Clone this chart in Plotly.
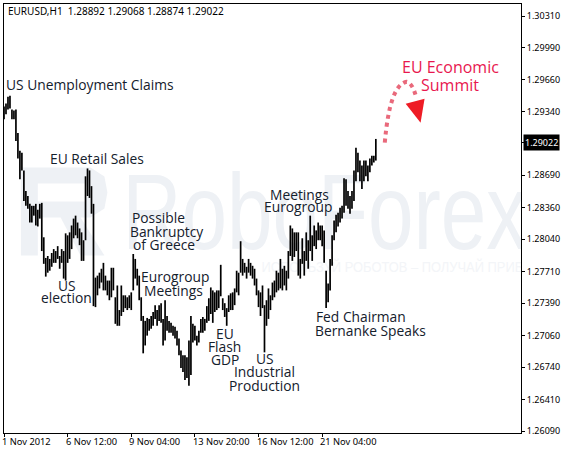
import numpy as np
import plotly.graph_objects as go

# One pair for every second hourly bar
highs = [
    1.2939, 1.2942, 1.2949, 1.2950, 1.2936, 1.2935, 1.2936, 1.2912, 1.2894, 1.2892,
    1.2874, 1.2853, 1.2848, 1.2840, 1.2838, 1.2838, 1.2840, 1.2834, 1.2840, 1.2841,
    1.2806, 1.2785, 1.2787, 1.2784, 1.2790, 1.2794, 1.2792, 1.2797, 1.2787, 1.2794,
    1.2792, 1.2810, 1.2808, 1.2811, 1.2818, 1.2825, 1.2828, 1.2821, 1.2815, 1.2811,
    1.2803, 1.2868, 1.2876, 1.2874, 1.2858, 1.2840, 1.2765, 1.2767, 1.2770, 1.2774,
    1.2780, 1.2767, 1.2762, 1.2762, 1.2775, 1.2775, 1.2745, 1.2757, 1.2732, 1.2757,
    1.2747, 1.2747, 1.2745, 1.2747, 1.2750, 1.2789, 1.2784, 1.2774, 1.2767, 1.2745,
    1.2726, 1.2721, 1.2724, 1.2723, 1.2726, 1.2730, 1.2737, 1.2732, 1.2737, 1.2739,
    1.2723, 1.2742, 1.2726, 1.2721, 1.2719, 1.2716, 1.2715, 1.2711, 1.2703, 1.2691,
    1.2686, 1.2686, 1.2684, 1.2701, 1.2726, 1.2718, 1.2716, 1.2706, 1.2711, 1.2723,
    1.2725, 1.2723, 1.2736, 1.2744, 1.2755, 1.2752, 1.2750, 1.2752, 1.2752, 1.2778,
    1.2744, 1.2739, 1.2734, 1.2747, 1.2749, 1.2750, 1.2754, 1.2772, 1.2770, 1.2802,
    1.2784, 1.2780, 1.2776, 1.2784, 1.2780, 1.2777, 1.2774, 1.2764, 1.2752, 1.2750,
    1.2757, 1.2737, 1.2742, 1.2754, 1.2747, 1.2760, 1.2762, 1.2772, 1.2770, 1.2784,
    1.2774, 1.2777, 1.2772, 1.2792, 1.2818, 1.2815, 1.2811, 1.2811, 1.2811, 1.2784,
    1.2805, 1.2792, 1.2811, 1.2803, 1.2828, 1.2808, 1.2818, 1.2813, 1.2821, 1.2818,
    1.2818, 1.2813, 1.2772, 1.2759, 1.2784, 1.2808, 1.2823, 1.2829, 1.2831, 1.2836,
    1.2838, 1.2866, 1.2865, 1.2853, 1.2848, 1.2853, 1.2874, 1.2897, 1.2892, 1.2884,
    1.2879, 1.2884, 1.2884, 1.2879, 1.2886, 1.2889, 1.2889, 1.2906,
]
lows = [
    1.2926, 1.2931, 1.2936, 1.2937, 1.2926, 1.2926, 1.2904, 1.2886, 1.2865, 1.2874,
    1.2843, 1.2838, 1.2835, 1.2821, 1.2821, 1.2828, 1.2818, 1.2817, 1.2825, 1.2792,
    1.2779, 1.2766, 1.2770, 1.2772, 1.2776, 1.2780, 1.2780, 1.2784, 1.2774, 1.2780,
    1.2764, 1.2762, 1.2780, 1.2784, 1.2794, 1.2805, 1.2808, 1.2805, 1.2798, 1.2782,
    1.2782, 1.2803, 1.2848, 1.2846, 1.2830, 1.2736, 1.2735, 1.2747, 1.2754, 1.2760,
    1.2752, 1.2752, 1.2747, 1.2742, 1.2745, 1.2752, 1.2718, 1.2716, 1.2716, 1.2726,
    1.2730, 1.2734, 1.2732, 1.2734, 1.2732, 1.2752, 1.2764, 1.2757, 1.2742, 1.2721,
    1.2688, 1.2696, 1.2706, 1.2711, 1.2713, 1.2716, 1.2723, 1.2716, 1.2721, 1.2719,
    1.2696, 1.2701, 1.2711, 1.2709, 1.2709, 1.2706, 1.2703, 1.2696, 1.2686, 1.2673,
    1.2669, 1.2661, 1.2663, 1.2655, 1.2666, 1.2699, 1.2701, 1.2696, 1.2699, 1.2709,
    1.2709, 1.2711, 1.2719, 1.2721, 1.2728, 1.2719, 1.2730, 1.2732, 1.2734, 1.2746,
    1.2732, 1.2725, 1.2716, 1.2730, 1.2732, 1.2732, 1.2737, 1.2750, 1.2747, 1.2770,
    1.2767, 1.2770, 1.2764, 1.2770, 1.2767, 1.2764, 1.2757, 1.2747, 1.2735, 1.2726,
    1.2734, 1.2689, 1.2716, 1.2723, 1.2732, 1.2742, 1.2745, 1.2750, 1.2752, 1.2754,
    1.2752, 1.2757, 1.2752, 1.2764, 1.2787, 1.2782, 1.2786, 1.2792, 1.2767, 1.2764,
    1.2779, 1.2767, 1.2782, 1.2774, 1.2792, 1.2782, 1.2797, 1.2794, 1.2803, 1.2803,
    1.2797, 1.2780, 1.2734, 1.2740, 1.2752, 1.2777, 1.2803, 1.2811, 1.2817, 1.2821,
    1.2825, 1.2831, 1.2838, 1.2835, 1.2830, 1.2835, 1.2843, 1.2863, 1.2872, 1.2863,
    1.2855, 1.2863, 1.2868, 1.2863, 1.2872, 1.2879, 1.2882, 1.2884,
]
bar_index = list(range(0, 2 * len(highs), 2))

price_ticks = [1.3031, 1.2999, 1.2966, 1.2934, 1.2869, 1.2836, 1.2804,
               1.2771, 1.2739, 1.2706, 1.2674, 1.2641, 1.2609]
last_price = 1.29022
time_ticks = [0, 64, 128, 192, 256, 320]
time_labels = ["1 Nov 2012", "6 Nov 12:00", "9 Nov 04:00",
               "13 Nov 20:00", "16 Nov 12:00", "21 Nov 04:00"]

# one entry per text line: text, centre x and centre y in window pixels
event_lines = [
    ("US Unemployment Claims", 89, 84),
    ("EU Retail Sales", 97, 158),
    ("Possible", 158, 217),
    ("Bankruptcy", 166, 231),
    ("of Greece", 164, 244),
    ("US", 66, 285),
    ("election", 66, 297),
    ("Eurogroup", 175, 276),
    ("Meetings", 173, 290),
    ("EU", 225, 333),
    ("Flash", 225, 346),
    ("GDP", 225, 359),
    ("US", 266, 358),
    ("Industrial", 265, 371),
    ("Production", 265, 385),
    ("Meetings", 300, 194),
    ("Eurogroup", 299, 206),
    ("Fed Chairman", 362, 316),
    ("Bernanke Speaks", 372, 330),
]
summit_lines = [("EU Economic", 452, 66), ("Summit", 452, 84)]

WIDTH, HEIGHT = 563, 451
LEFT, RIGHT, TOP, BOTTOM = 3, 523, 3, 433
UI_FONT = "Noto Sans"
NOTE_FONT = "Open Sans"
WATERMARK = "#eef1f5"

# the page margin has to go, and the watermark font is much narrower than anything installed
POST_SCRIPT = """
document.body.style.margin = 0;
var widths = {'RoboForex': 405, 'ИСПОЛЬЗУЙ РОБОТОВ – ПОЛУЧАЙ ПРИБЫЛЬ': 290};
document.querySelectorAll('.textpoint text').forEach(function (t) {
    if (widths[t.textContent]) {
        t.setAttribute('textLength', widths[t.textContent]);
        t.setAttribute('lengthAdjust', 'spacingAndGlyphs');
    }
});
"""


def paper_x(px):
    return (px - LEFT) / (RIGHT - LEFT)


def paper_y(py):
    return (BOTTOM - py) / (BOTTOM - TOP)


def path(*points):
    return "M" + " L".join(f"{paper_x(x)},{paper_y(y)}" for x, y in points) + " Z"


# every bar is a vertical stroke, separated by gaps
bar_x, bar_y = [], []
for i, high, low in zip(bar_index, highs, lows):
    bar_x += [i, i, None]
    bar_y += [high, low, None]

fig = go.Figure()
fig.add_trace(go.Scatter(
    x=[119], y=[1.2767], mode="text", text=["RoboForex"],
    textposition="top right",
    textfont=dict(family="Liberation Sans", size=107, color=WATERMARK),
))
fig.add_trace(go.Scatter(
    x=[259], y=[1.27745], mode="text",
    text=["ИСПОЛЬЗУЙ РОБОТОВ – ПОЛУЧАЙ ПРИБЫЛЬ"],
    textposition="middle right",
    textfont=dict(family="Liberation Sans", size=15, color="#f3f5f8"),
))
fig.add_trace(go.Scatter(
    x=bar_x, y=bar_y, mode="lines",
    line=dict(color="#000000", width=1.7),
))

shapes = [
    # logo behind the chart
    dict(type="path", xref="paper", yref="paper", layer="below", line_width=0,
         fillcolor=WATERMARK,
         path=path((20, 167), (90, 167), (104, 176), (107, 192), (104, 208),
                   (90, 217), (80, 217), (104, 255), (80, 255), (60, 217),
                   (37, 217), (37, 255), (20, 255))),
    dict(type="path", xref="paper", yref="paper", layer="below", line_width=0,
         fillcolor="#ffffff",
         path=path((37, 183), (85, 183), (88, 192), (85, 201), (37, 201))),
    # dotted arc and arrow head
    dict(type="path", xref="paper", yref="paper",
         path=(f"M{paper_x(386)},{paper_y(142)} "
               f"Q{paper_x(391)},{paper_y(84)} {paper_x(408)},{paper_y(81)} "
               f"Q{paper_x(414)},{paper_y(82)} {paper_x(418)},{paper_y(98)}"),
         line=dict(color="#e9697b", width=4, dash="dot")),
    dict(type="path", xref="paper", yref="paper", line_width=0,
         fillcolor="#ee1c25", path=path((407, 103), (426, 98), (422, 122))),
]

annotations = [
    dict(text="EURUSD,H1  1.28892 1.29068 1.28874 1.29022",
         xref="paper", yref="paper", x=paper_x(5), y=paper_y(10),
         xanchor="left", yanchor="middle", showarrow=False,
         font=dict(family=UI_FONT, size=10, color="#000000")),
    # the live price flag sits over the axis
    dict(text="1.29022", xref="paper", yref="y", x=paper_x(525), y=last_price,
         xanchor="left", yanchor="middle", showarrow=False, bgcolor="#000000",
         borderpad=1, font=dict(family=UI_FONT, size=9, color="#ffffff")),
]
for tick, label in zip(time_ticks, time_labels):
    annotations.append(dict(
        text=label, xref="x", yref="paper", x=tick, y=paper_y(442), xshift=-4,
        xanchor="left", yanchor="middle", showarrow=False,
        font=dict(family=UI_FONT, size=9.3, color="#000000")))
for text, x, y in event_lines:
    annotations.append(dict(
        text=text, xref="paper", yref="paper", x=paper_x(x), y=paper_y(y),
        xanchor="center", yanchor="middle", showarrow=False,
        font=dict(family=NOTE_FONT, size=13.8, color="#14202c")))
for text, x, y in summit_lines:
    annotations.append(dict(
        text=text, xref="paper", yref="paper", x=paper_x(x), y=paper_y(y),
        xanchor="center", yanchor="middle", showarrow=False,
        font=dict(family=NOTE_FONT, size=16, color="#e8174f")))

fig.update_layout(
    width=WIDTH, height=HEIGHT,
    margin=dict(l=LEFT, r=WIDTH - RIGHT, t=TOP, b=HEIGHT - BOTTOM, pad=0),
    paper_bgcolor="#ffffff", plot_bgcolor="#ffffff",
    showlegend=False, shapes=shapes, annotations=annotations,
)
fig.update_xaxes(
    range=[0, RIGHT - LEFT], showgrid=False, zeroline=False,
    showline=True, linecolor="#000000", linewidth=1, mirror=True,
    tickmode="array", tickvals=time_ticks, ticktext=[""] * len(time_ticks),
    ticks="outside", ticklen=3, tickcolor="#000000", tickwidth=1,
)
fig.update_yaxes(
    range=[1.26070, 1.30432], side="right", showgrid=False, zeroline=False,
    showline=True, linecolor="#000000", linewidth=1, mirror=True,
    tickmode="array", tickvals=price_ticks + [last_price],
    ticktext=[f"{t:.5f}" for t in price_ticks] + [""],
    ticks="outside", ticklen=3, tickcolor="#000000", tickwidth=1,
    tickfont=dict(family=UI_FONT, size=9, color="#000000"),
)

fig.write_html("out.html", post_script=POST_SCRIPT,
               config={"displayModeBar": False})
